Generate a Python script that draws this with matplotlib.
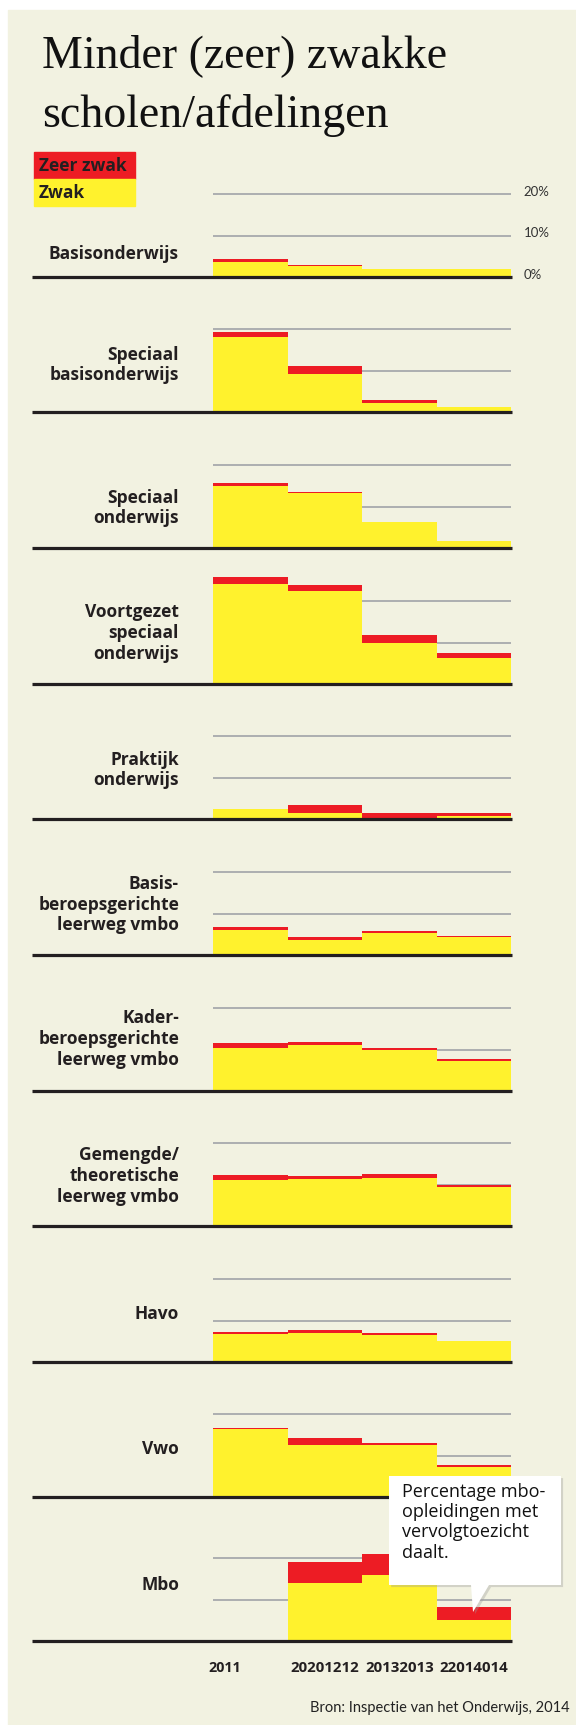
import matplotlib
matplotlib.use("Agg")
import matplotlib.pyplot as plt
import matplotlib.patheffects as pe
from matplotlib.patches import Rectangle, Polygon
from matplotlib.lines import Line2D
import numpy as np

# data (percentages)
categories = ['Basisonderwijs',
              'Speciaal\nbasisonderwijs',
              'Speciaal\nonderwijs',
              'Voortgezet\nspeciaal\nonderwijs',
              'Praktijk\nonderwijs',
              'Basis-\nberoepsgerichte\nleerweg vmbo',
              'Kader-\nberoepsgerichte\nleerweg vmbo',
              'Gemengde/\ntheoretische\nleerweg vmbo',
              'Havo',
              'Vwo',
              'Mbo']

zwak = [[3.7, 2.7, 2.0, 2.0],
        [18.2, 9.3, 2.2, 1.3],
        [14.9, 13.2, 6.2, 1.8],
        [24.2, 22.4, 9.9, 6.3],
        [2.4, 1.5, 0.3, 0.8],
        [6.1, 3.7, 5.4, 4.5],
        [10.4, 11.1, 9.9, 7.3],
        [11.2, 11.4, 11.7, 9.5],
        [6.8, 7.1, 6.6, 5.1],
        [16.4, 12.6, 12.6, 7.4],
        [0.0, 14.0, 16.0, 5.1]]

zeer_zwak = [[0.7, 0.2, 0.0, 0.0],
             [1.2, 1.9, 0.8, 0.0],
             [0.7, 0.2, 0.0, 0.0],
             [1.6, 1.5, 1.9, 1.2],
             [0.1, 1.9, 1.1, 0.7],
             [0.7, 0.7, 0.5, 0.2],
             [1.2, 0.7, 0.5, 0.3],
             [1.1, 0.8, 1.0, 0.5],
             [0.5, 0.7, 0.5, 0.0],
             [0.4, 1.6, 0.6, 0.5],
             [0.0, 5.1, 4.9, 3.0]]

year_labels = ['2011', '20201212', '20132013', '22014014']
grid_values = [10, 20]
pct_labels = ['0%', '10%', '20%']

# layout (pixels)
W, H = 576, 1725
baselines = [277, 412.3, 548, 684, 819, 955.3, 1091, 1226.3, 1362.3, 1497.3, 1641]
label_y = [254, 365, 508, 633, 770, 904.7, 1039, 1175.7, 1314.3, 1449.3, 1585]
x0, x1 = 213.4, 511.5
px10 = 41.5

bg = '#f2f2e1'
yellow = '#fff22d'
red = '#ed1c24'
grey = '#a7a9ac'
black = '#231f20'
sans = 'Lato'
bold = 'Open Sans'


def fx(x):
    return x / W


def fy(y):
    return 1 - y / H


fig = plt.figure(figsize=(W / 100, H / 100), dpi=100)
fig.patch.set_facecolor('white')
fig.add_artist(Rectangle((fx(8), 0), 1 - fx(8), fy(10), color=bg, zorder=-5))

# title
fig.text(fx(42), fy(67), 'Minder (zeer) zwakke', family='Liberation Serif',
         fontsize=33, color='#111111', va='baseline')
fig.text(fx(42), fy(127), 'scholen/afdelingen', family='Liberation Serif',
         fontsize=33, color='#111111', va='baseline')

# legend
fig.add_artist(Rectangle((fx(34), fy(179)), fx(135) - fx(34), fy(152) - fy(179), color=red))
fig.add_artist(Rectangle((fx(34), fy(206)), fx(135) - fx(34), fy(179) - fy(206), color=yellow))
fig.text(fx(39), fy(166), 'Zeer zwak', family=bold, fontweight='bold', fontsize=12.5,
         va='center', color=black)
fig.text(fx(39), fy(193), 'Zwak', family=bold, fontweight='bold', fontsize=12.5,
         va='center', color=black)

xs = np.arange(4)
for i, cat in enumerate(categories):
    base = baselines[i]
    ax = fig.add_axes([fx(x0), fy(base), fx(x1) - fx(x0), 28 * px10 / 10 / H])
    ax.set_xlim(0, 4)
    ax.set_ylim(0, 28)
    ax.axis('off')
    for g in grid_values:
        ax.axhline(g, color=grey, lw=1.3, zorder=0)
    ax.bar(xs, zwak[i], width=1, align='edge', color=yellow, lw=0, zorder=2)
    ax.bar(xs, zeer_zwak[i], width=1, align='edge', bottom=zwak[i], color=red,
           lw=0, zorder=2)
    fig.add_artist(Line2D([fx(32), fx(x1)], [fy(base), fy(base)], color=black,
                          lw=2.3, solid_capstyle='butt'))
    fig.text(fx(179), fy(label_y[i]), cat, family=bold, fontweight='bold',
             fontsize=12.5, ha='right', va='center', linespacing=1.2, color=black)
    if i == 0:
        for v, t in zip([0] + grid_values, pct_labels):
            ax.text(4.16, v + 0.6, t, fontsize=9.5, family=sans, va='center',
                    color='#333333', clip_on=False)
    if i == len(categories) - 1:
        ax.text(0.15, -6.6, year_labels[0], fontsize=10.3, family=bold,
                fontweight='bold', ha='center', va='center', color=black)
        for k in range(1, 4):
            ax.text(k + 0.5, -6.6, year_labels[k], fontsize=10.8, family=bold,
                    fontweight='bold', ha='center', va='center', color=black)

# callout
pts = [(389, 1476), (561, 1476), (561, 1585), (489, 1585), (473, 1612),
       (471, 1585), (389, 1585)]
callout = Polygon([(fx(a), fy(b)) for a, b in pts], closed=True, facecolor='white',
                  edgecolor='none', zorder=10)
callout.set_path_effects([pe.SimplePatchShadow(offset=(1.5, -1.5), shadow_rgbFace='#999999',
                                               alpha=0.35), pe.Normal()])
fig.add_artist(callout)
fig.text(fx(402), fy(1483), 'Percentage mbo-\nopleidingen met\nvervolgtoezicht\ndaalt.',
         family='Open Sans', fontsize=13, va='top', ha='left', linespacing=1.16,
         color='#111111', zorder=11)

fig.text(fx(570), fy(1708), 'Bron: Inspectie van het Onderwijs, 2014', family=sans,
         fontsize=10.5, ha='right', va='center', color='#222222')

fig.savefig('out.png', dpi=100, facecolor=fig.get_facecolor())
